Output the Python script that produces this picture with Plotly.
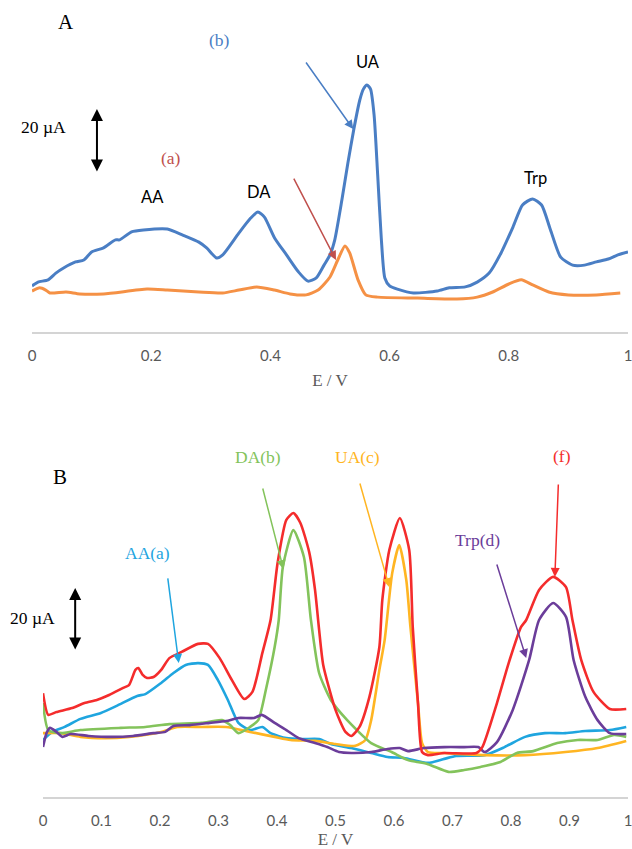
import plotly.graph_objects as go

# ---------------- Panel A data (E / V, current in µA) ----------------
a_b_E = [0, 0.01, 0.027, 0.04, 0.053, 0.073, 0.087, 0.1, 0.12, 0.14, 0.147, 0.167, 0.187, 0.227,
         0.253, 0.28, 0.293, 0.31, 0.32, 0.347, 0.367, 0.379, 0.39, 0.407, 0.427, 0.447, 0.463,
         0.477, 0.49, 0.5, 0.508, 0.52, 0.53, 0.54, 0.55, 0.556, 0.562, 0.568, 0.574, 0.58, 0.586,
         0.592, 0.6, 0.613, 0.64, 0.68, 0.7, 0.727, 0.747, 0.767, 0.787, 0.807, 0.823, 0.84, 0.855,
         0.87, 0.887, 0.907, 0.927, 0.947, 0.967, 0.983, 1.0]
a_b_I = [14.4, 15.6, 16.3, 18.4, 20.0, 21.9, 22.5, 25.0, 26.3, 28.8, 28.8, 31.3, 31.9, 32.2,
         30.3, 28.1, 26.3, 23.1, 24.1, 30.9, 35.6, 37.5, 35.9, 29.4, 24.1, 18.8, 15.9,
         16.9, 20.9, 24.1, 28.8, 41.3, 52.8, 63.4, 72.5, 75.9, 77.2, 75.9, 67.8, 49.1, 29.4,
         16.9, 14.4, 13.4, 12.2, 12.8, 13.8, 14.1, 15.6, 18.4, 24.7, 32.8, 39.7, 41.6, 39.7,
         31.9, 23.4, 20.9, 20.9, 21.9, 22.8, 24.1, 25.0]

a_a_E = [0, 0.013, 0.023, 0.03, 0.057, 0.08, 0.12, 0.193, 0.227, 0.28, 0.32, 0.347, 0.377, 0.407,
         0.433, 0.46, 0.48, 0.5, 0.513, 0.525, 0.533, 0.547, 0.56, 0.58, 0.647, 0.713, 0.747,
         0.773, 0.8, 0.821, 0.84, 0.867, 0.9, 0.947, 0.987]
a_a_I = [12.8, 13.8, 13.1, 12.2, 12.5, 11.9, 11.9, 13.4, 13.1, 12.5, 12.2, 13.1, 14.1, 13.1,
         11.9, 11.6, 13.1, 17.2, 22.5, 26.9, 24.7, 16.3, 11.6, 10.9, 10.6, 10.3, 10.9,
         12.5, 15.0, 16.3, 14.7, 12.5, 11.6, 11.6, 12.2]

# ---------------- Panel B data ----------------
b_f_E = [0.0, 0.009, 0.023, 0.05, 0.071, 0.092, 0.113, 0.137, 0.147, 0.158, 0.163, 0.17, 0.178,
         0.189, 0.202, 0.216, 0.237, 0.265, 0.282, 0.302, 0.323, 0.344, 0.358, 0.375, 0.389,
         0.401, 0.416, 0.428, 0.44, 0.455, 0.465, 0.472, 0.479, 0.5, 0.517, 0.527, 0.541, 0.558,
         0.575, 0.58, 0.592, 0.61, 0.626, 0.632, 0.641, 0.648, 0.658, 0.686, 0.741, 0.751, 0.776,
         0.796, 0.817, 0.826, 0.848, 0.872, 0.894, 0.905, 0.92, 0.941, 0.969, 0.997]
b_f_I = [33.5, 26.5, 27.4, 28.7, 30.3, 31.3, 32.9, 35.2, 36.1, 41.0, 41.6, 39.5, 38.4,
         38.7, 41.0, 44.8, 46.8, 49.4, 49.4, 44.8, 37.7, 31.6, 33.9, 46.5, 57.1,
         75.5, 89.4, 91.6, 88.4, 79.0, 66.8, 53.9, 42.6, 28.1, 21.0, 19.7, 22.6, 32.3,
         48.4, 63.5, 79.7, 90.0, 79.7, 55.0, 30.3, 14.5, 13.5, 14.2, 14.2, 16.1, 30.3,
         43.2, 54.8, 57.1, 66.8, 71.0, 67.7, 57.1, 44.2, 33.9, 28.4, 28.4]

b_a_E = [0, 0.016, 0.037, 0.064, 0.099, 0.126, 0.161, 0.175, 0.202, 0.223, 0.244, 0.265, 0.282,
         0.299, 0.316, 0.334, 0.354, 0.375, 0.389, 0.416, 0.444, 0.472, 0.492, 0.527, 0.561,
         0.589, 0.617, 0.658, 0.686, 0.706, 0.755, 0.789, 0.824, 0.858, 0.893, 0.927, 0.969, 0.997]
b_a_I = [18.4, 21.0, 22.6, 25.2, 27.1, 29.4, 32.6, 33.2, 36.8, 40.0, 42.6, 43.2, 42.6,
         37.7, 31.3, 23.9, 21.6, 22.6, 20.6, 19.0, 18.7, 18.7, 17.1, 15.8, 14.2,
         12.9, 12.6, 11.0, 12.3, 13.2, 13.5, 16.1, 19.4, 20.6, 20.6, 21.3, 21.6, 22.6]

b_b_E = [0, 0.009, 0.03, 0.064, 0.133, 0.175, 0.216, 0.271, 0.306, 0.32, 0.334, 0.354, 0.368,
         0.382, 0.396, 0.403, 0.41, 0.428, 0.446, 0.458, 0.472, 0.492, 0.52, 0.561, 0.596, 0.624,
         0.658, 0.693, 0.72, 0.748, 0.782, 0.81, 0.838, 0.879, 0.914, 0.948, 0.976, 0.997]
b_b_I = [30.3, 21.6, 20.6, 21.6, 22.3, 22.6, 23.5, 23.9, 24.8, 23.2, 20.6, 22.6, 24.8,
         35.5, 48.4, 57.1, 74.2, 86.1, 77.4, 57.1, 40.0, 31.3, 24.8, 17.4, 14.5, 11.9,
         10.6, 8.1, 8.7, 9.7, 11.3, 14.2, 14.8, 17.4, 18.4, 18.4, 20.0, 19.4]

b_c_E = [0, 0.03, 0.064, 0.106, 0.147, 0.202, 0.23, 0.271, 0.313, 0.354, 0.396, 0.423, 0.465,
         0.5, 0.534, 0.551, 0.561, 0.575, 0.584, 0.597, 0.609, 0.621, 0.628, 0.641, 0.648, 0.658,
         0.686, 0.755, 0.824, 0.893, 0.948, 0.997]
b_c_I = [20.6, 20.6, 19.4, 19.0, 19.4, 21.0, 22.6, 22.6, 22.6, 21.0, 19.4, 18.4, 18.1,
         17.1, 16.5, 18.4, 24.8, 41.0, 50.6, 72.3, 81.3, 70.0, 55.0, 30.3, 17.4, 14.5,
         14.2, 13.5, 13.5, 14.5, 15.8, 18.1]

b_d_E = [0, 0.006, 0.012, 0.023, 0.033, 0.047, 0.078, 0.119, 0.154, 0.189, 0.209, 0.223, 0.251,
         0.285, 0.313, 0.334, 0.361, 0.374, 0.396, 0.416, 0.437, 0.465, 0.486, 0.506, 0.527,
         0.561, 0.589, 0.61, 0.624, 0.651, 0.686, 0.72, 0.744, 0.755, 0.776, 0.803, 0.831, 0.848,
         0.872, 0.894, 0.907, 0.927, 0.948, 0.969, 0.997]
b_d_I = [16.1, 20.6, 22.3, 21.0, 19.4, 20.3, 19.7, 19.4, 19.7, 20.6, 21.0, 22.9, 23.2,
         23.9, 24.5, 25.5, 25.5, 26.5, 23.9, 21.6, 19.0, 17.4, 16.1, 14.5, 14.2,
         14.5, 15.5, 15.8, 14.8, 15.8, 16.1, 16.1, 16.1, 14.5, 17.7, 28.1, 44.2, 57.1,
         62.6, 58.1, 44.2, 32.3, 24.8, 20.6, 20.3]

ticks_a = [0, 0.2, 0.4, 0.6, 0.8, 1.0]
ticklabels_a = ["0", "0.2", "0.4", "0.6", "0.8", "1"]
ticks_b = [0, 0.1, 0.2, 0.3, 0.4, 0.5, 0.6, 0.7, 0.8, 0.9, 1.0]
ticklabels_b = ["0", "0.1", "0.2", "0.3", "0.4", "0.5", "0.6", "0.7", "0.8", "0.9", "1"]

W, H = 632, 849
SERIF = "Liberation Serif"
SANS = "Lato"

fig = go.Figure()

def line(x, y, color, xa, ya, width=3):
    fig.add_trace(go.Scatter(x=x, y=y, mode="lines", xaxis=xa, yaxis=ya,
                             line=dict(color=color, width=width, shape="spline", smoothing=0.6),
                             showlegend=False, hoverinfo="skip"))

C_BLUE, C_ORANGE = "#4A7EC4", "#F59145"
C_RED, C_GREEN, C_LBLUE, C_YEL, C_PUR = "#F42C2C", "#83C35B", "#1FA5DF", "#FFB522", "#6B3D9A"

line(a_a_E, a_a_I, C_ORANGE, "x", "y")
line(a_b_E, a_b_I, C_BLUE, "x", "y")

line(b_a_E, b_a_I, C_LBLUE, "x2", "y2", 2.6)
line(b_c_E, b_c_I, C_YEL, "x2", "y2", 2.6)
line(b_b_E, b_b_I, C_GREEN, "x2", "y2", 2.6)
line(b_d_E, b_d_I, C_PUR, "x2", "y2", 2.6)
line(b_f_E, b_f_I, C_RED, "x2", "y2", 2.6)

ann = []
def txt(x, y, s, color="black", font=SERIF, size=17.5, xr="x", yr="y"):
    ann.append(dict(x=x, y=y, xref=xr, yref=yr, text=s, showarrow=False,
                    xanchor="center", yanchor="middle",
                    font=dict(family=font, size=size, color=color)))

def arrow(x0, y0, x1, y1, color, xr="x", yr="y", width=1.5, both=False):
    d = dict(x=x1, y=y1, ax=x0, ay=y0, xref=xr, yref=yr, axref=xr, ayref=yr,
             text="", showarrow=True, arrowhead=2, arrowsize=1.2, arrowwidth=width,
             arrowcolor=color)
    if both:
        d["arrowside"] = "end+start"
        d["startarrowhead"] = 2
        d["startarrowsize"] = 1.2
    ann.append(d)

# Panel A annotations
txt(0.057, 96.9, "A", size=21)
txt(0.315, 91.3, "(b)", color=C_BLUE)
txt(0.233, 54.4, "(a)", color="#C0504D")
txt(0.564, 84.4, "UA", font=SANS, size=16.5)
txt(0.203, 42.2, "AA", font=SANS, size=16.5)
txt(0.381, 43.8, "DA", font=SANS, size=16.5)
txt(0.844, 48.1, "Trp", font=SANS, size=16.5)
txt(0.02, 64.1, "20 µA")
arrow(0.458, 84.7, 0.539, 63.4, C_BLUE)
arrow(0.438, 48.4, 0.51, 22.5, "#C0504D")
arrow(0.109, 49.7, 0.109, 69.7, "black", width=2, both=True)

# Panel B annotations
txt(0.029, 103.2, "B", size=21, xr="x2", yr="y2")
txt(0.179, 78.7, "AA(a)", color=C_LBLUE, xr="x2", yr="y2")
txt(0.367, 109.7, "DA(b)", color=C_GREEN, xr="x2", yr="y2")
txt(0.538, 109.7, "UA(c)", color=C_YEL, xr="x2", yr="y2")
txt(0.887, 110.0, "(f)", color=C_RED, xr="x2", yr="y2")
txt(0.742, 82.9, "Trp(d)", color=C_PUR, xr="x2", yr="y2")
txt(32 / W, 57.7, "20 µA", xr="paper", yr="y2")
arrow(0.213, 71.0, 0.232, 43.2, C_LBLUE, "x2", "y2")
arrow(0.375, 100.0, 0.411, 73.5, C_GREEN, "x2", "y2")
arrow(0.541, 101.6, 0.592, 67.7, C_YEL, "x2", "y2")
arrow(0.881, 101.3, 0.875, 71.0, C_RED, "x2", "y2")
arrow(0.775, 75.5, 0.826, 44.8, C_PUR, "x2", "y2")
arrow(0.055, 47.1, 0.055, 67.4, "black", "x2", "y2", width=2, both=True)

def xaxis_style(standoff):
    return dict(range=[0, 1], showline=True, linecolor="#D4D4D4", linewidth=2,
                showgrid=False, zeroline=False, ticks="", ticklabelstandoff=9,
                automargin=False, ticklabeloverflow="allow",
                tickfont=dict(family=SANS, size=15, color="#595959"),
                title=dict(text="E / V", font=dict(family=SERIF, size=17, color="#595959"),
                           standoff=standoff))

fig.update_layout(
    width=W, height=H, margin=dict(l=0, r=0, t=0, b=0, autoexpand=False),
    paper_bgcolor="white", plot_bgcolor="white", showlegend=False,
    xaxis=dict(domain=[32 / W, 628 / W], anchor="y", tickvals=ticks_a, ticktext=ticklabels_a,
               **xaxis_style(11)),
    yaxis=dict(domain=[1 - 332 / H, 1 - 20 / H], range=[0, 312 / 3.2], visible=False),
    xaxis2=dict(domain=[43 / W, 628 / W], anchor="y2", tickvals=ticks_b, ticktext=ticklabels_b,
                **xaxis_style(6)),
    yaxis2=dict(domain=[1 - 797 / H, 1 - 440 / H], range=[0, 357 / 3.1], visible=False),
    annotations=ann,
)

fig.write_html("out.html", config={"displayModeBar": False},
               post_script="document.body.style.margin='0';document.body.style.overflow='hidden';")
